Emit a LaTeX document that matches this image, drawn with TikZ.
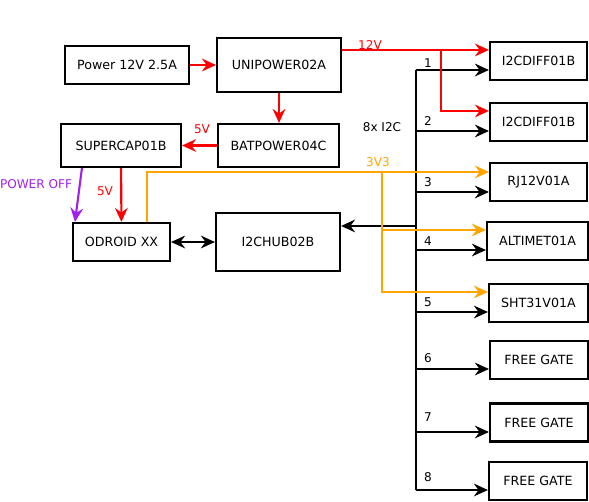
\documentclass[tikz,border=0pt]{standalone}
\usepackage{fontspec}
\setmainfont{DejaVu Sans}
\usetikzlibrary{arrows.meta}
\definecolor{pwroff}{HTML}{A020F0}
\definecolor{vthree}{HTML}{FFA500}

\begin{document}
\begin{tikzpicture}[x=0.03cm, y=-0.03cm, line width=1.8pt,
    font=\fontsize{10.8}{12}\selectfont,
    >={Stealth[length=4.2mm,width=3.8mm,inset=1.4mm]},
    blk/.style={draw, minimum height=1.14cm, inner sep=2pt},
    lbl/.style={font=\fontsize{10.3}{12}\selectfont}]
        \useasboundingbox (0,0) rectangle (589,501);

        % Power and controller boxes
        \node[blk, minimum width=3.72cm] (power) at (127,65) {Power 12V 2.5A};
        \node[blk, minimum width=3.72cm, minimum height=1.62cm] (unipower) at (279,65) {UNIPOWER02A};
        \node[blk, minimum width=3.63cm, minimum height=1.29cm] (batpower) at (278.5,145.5) {BATPOWER04C};
        \node[blk, minimum width=3.6cm, minimum height=1.29cm] (supercap) at (121,145.5) {SUPERCAP01B};
        \node[blk, minimum width=2.91cm] (odroid) at (121.5,242) {ODROID XX};
        \node[blk, minimum width=3.72cm, minimum height=1.74cm] (hub) at (278,242) {I2CHUB02B};

        % Modules on the bus
        \node[blk, minimum width=2.91cm] (diffa) at (538.5,61) {I2CDIFF01B};
        \node[blk, minimum width=2.91cm] (diffb) at (538.5,122) {I2CDIFF01B};
        \node[blk, minimum width=2.91cm] (rj) at (538.5,182) {RJ12V01A};
        \node[blk, minimum width=3.03cm] (alti) at (537.5,241) {ALTIMET01A};
        \node[blk, minimum width=2.97cm] (sht) at (538.5,303) {SHT31V01A};
        \node[blk, minimum width=2.94cm] (gatea) at (539,360) {FREE GATE};
        \node[blk, minimum width=2.94cm] (gateb) at (539,422.5) {FREE GATE};
        \node[blk, minimum width=2.94cm] (gatec) at (538,481) {FREE GATE};

        % I2C bus
        \draw (416,70) coordinate (bustop) -- (416,490) coordinate (busbot);
        \coordinate (hubin) at ([shift={(0,14)}]hub.north east);
        \draw[->] (bustop |- hubin) -- (hubin);
        \node[lbl] (i2clbl) at (382,127) {8x I2C};
        \foreach \y/\ly/\n/\tgt in {70/63/1/diffa, 131/121/2/diffb, 192/182/3/rj, 250/241/4/alti,
                                    312/302/5/sht, 369/358/6/gatea, 432/417/7/gateb, 490/477/8/gatec} {
          \draw[->] (bustop |- 0,\y) -- (\tgt.west |- 0,\y);
          \node[lbl] at (428,\ly) {\n};
        }
        \draw[<->] (odroid) -- (hub);

        % 12V / 5V supply
        \draw[red,->] (power) -- (unipower);
        \draw[red,->] (unipower.south) -- (unipower.south |- batpower.north);
        \draw[red,->] (batpower) -- (supercap);
        \node[lbl, red] (fivea) at (202,129) {5V};
        \draw[red,->] (supercap) -- (odroid);
        \node[lbl, red] (fiveb) at (105,191) {5V};
        \draw[red,->] ([shift={(0,13)}]unipower.north east) coordinate (twelve) -- (twelve -| diffa.west);
        \node[lbl, red] (twelvelbl) at (370,45) {12V};
        \draw[red,->] ([shift={(99,0)}]twelve) |- ([shift={(0,9)}]diffb.north west);

        % Power off line
        \draw[pwroff,->] ([shift={(22,0)}]supercap.south west) -- ([shift={(3,0)}]odroid.north west);
        \node[lbl, pwroff] (offlbl) at (36,184) {POWER OFF};

        % 3V3 supply
        \draw[vthree,->] ([shift={(-24,0)}]odroid.north east) |- ([shift={(0,10)}]rj.north west);
        \node[lbl, vthree] (v3lbl) at (378,162) {3V3};
        \coordinate (v3tap) at (382,173);
        \coordinate (altin) at ([shift={(0,9)}]alti.north west);
        \draw[vthree,->] (v3tap |- altin) -- (altin);
        \draw[vthree,->] (v3tap) |- ([shift={(0,9)}]sht.north west);
\end{tikzpicture}
\end{document}
